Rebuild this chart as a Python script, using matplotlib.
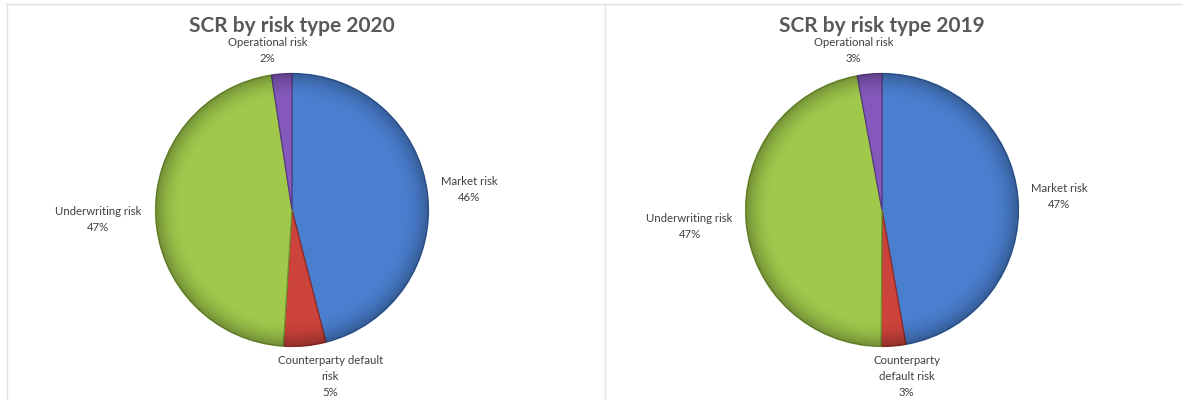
import numpy as np
import matplotlib.pyplot as plt
from matplotlib.lines import Line2D
from matplotlib.patches import Circle

# Datos
categorias = ['Market risk', 'Counterparty default\nrisk', 'Underwriting risk', 'Operational risk']
categorias_2019 = ['Market risk', 'Counterparty\ndefault risk', 'Underwriting risk', 'Operational risk']
valores_2020 = [46.0, 5.0, 46.6, 2.4]
valores_2019 = [47.2, 2.9, 47.0, 2.9]
etiquetas_pct_2020 = ['46%', '5%', '47%', '2%']
etiquetas_pct_2019 = ['47%', '3%', '47%', '3%']

COLORES = ['#4a7fcf', '#cc433b', '#a0c94c', '#8459bb']
BORDES = ['#2f5a9a', '#8e2a25', '#6f8f2e', '#5a3a86']
GRIS_TXT = '#595959'

# Posición de las etiquetas (en radios, relativo al centro)
POS_2020 = [(1.30, 0.15), (0.28, -1.22), (-1.42, -0.07), (-0.18, 1.17)]
POS_2019 = [(1.30, 0.10), (0.18, -1.22), (-1.41, -0.12), (-0.21, 1.17)]

W, H = 1183, 400
R_PX = 136.5

plt.rcParams['font.family'] = ['Lato', 'DejaVu Sans']
fig = plt.figure(figsize=(W / 100, H / 100), dpi=100)


def sombreado(ax):
    # leve oscurecimiento en el borde del círculo (efecto biselado de Excel)
    n = 400
    g = np.linspace(-1, 1, n)
    xx, yy = np.meshgrid(g, g)
    r = np.sqrt(xx ** 2 + yy ** 2)
    alfa = np.clip((r - 0.80) / 0.20, 0, 1) ** 2 * 0.28
    img = np.zeros((n, n, 4))
    img[..., 3] = alfa
    circ = Circle((0, 0), 1, transform=ax.transData)
    im = ax.imshow(img, extent=(-1, 1, -1, 1), origin='lower', zorder=3, interpolation='bilinear')
    im.set_clip_path(circ)


def dibujar_pie(x0_px, x1_px, cx_px, cy_px, valores, nombres, pcts, posiciones, titulo):
    ax = fig.add_axes([x0_px / W, 0, (x1_px - x0_px) / W, 1])
    ax.pie(valores, colors=COLORES, startangle=90, counterclock=False,
           wedgeprops=dict(linewidth=0.9), radius=1)
    for w, ec in zip(ax.patches, BORDES):
        w.set_edgecolor(ec)
        w.set_zorder(2)
    sombreado(ax)
    ax.set_aspect('auto')
    ax.set_xlim(-(cx_px - x0_px) / R_PX, (x1_px - cx_px) / R_PX)
    ax.set_ylim(-(H - cy_px) / R_PX, cy_px / R_PX)
    for nombre, pct, (px, py) in zip(nombres, pcts, posiciones):
        ax.text(px, py, f'{nombre}\n{pct}', ha='center', va='center', fontsize=8.2,
                color='#404040', linespacing=1.55)
    ax.text(0, (cy_px - 26) / R_PX, titulo, ha='center', va='center', fontsize=15,
            fontweight='bold', color=GRIS_TXT)
    ax.axis('off')
    return ax


dibujar_pie(6, 604, 292, 210, valores_2020, categorias, etiquetas_pct_2020, POS_2020,
            'SCR by risk type 2020')
dibujar_pie(604, W, 882, 210, valores_2019, categorias_2019, etiquetas_pct_2019, POS_2019,
            'SCR by risk type 2019')

# Marcos grises de las celdas
for xs, ys in [((6 / W, 1), (1 - 3.5 / H, 1 - 3.5 / H)),
               ((6.5 / W, 6.5 / W), (0, 1 - 3.5 / H)),
               ((604.5 / W, 604.5 / W), (0, 1 - 3.5 / H))]:
    fig.add_artist(Line2D(xs, ys, color='#e2e2e2', linewidth=1.0))

fig.savefig('out.png', dpi=100, facecolor='white')
